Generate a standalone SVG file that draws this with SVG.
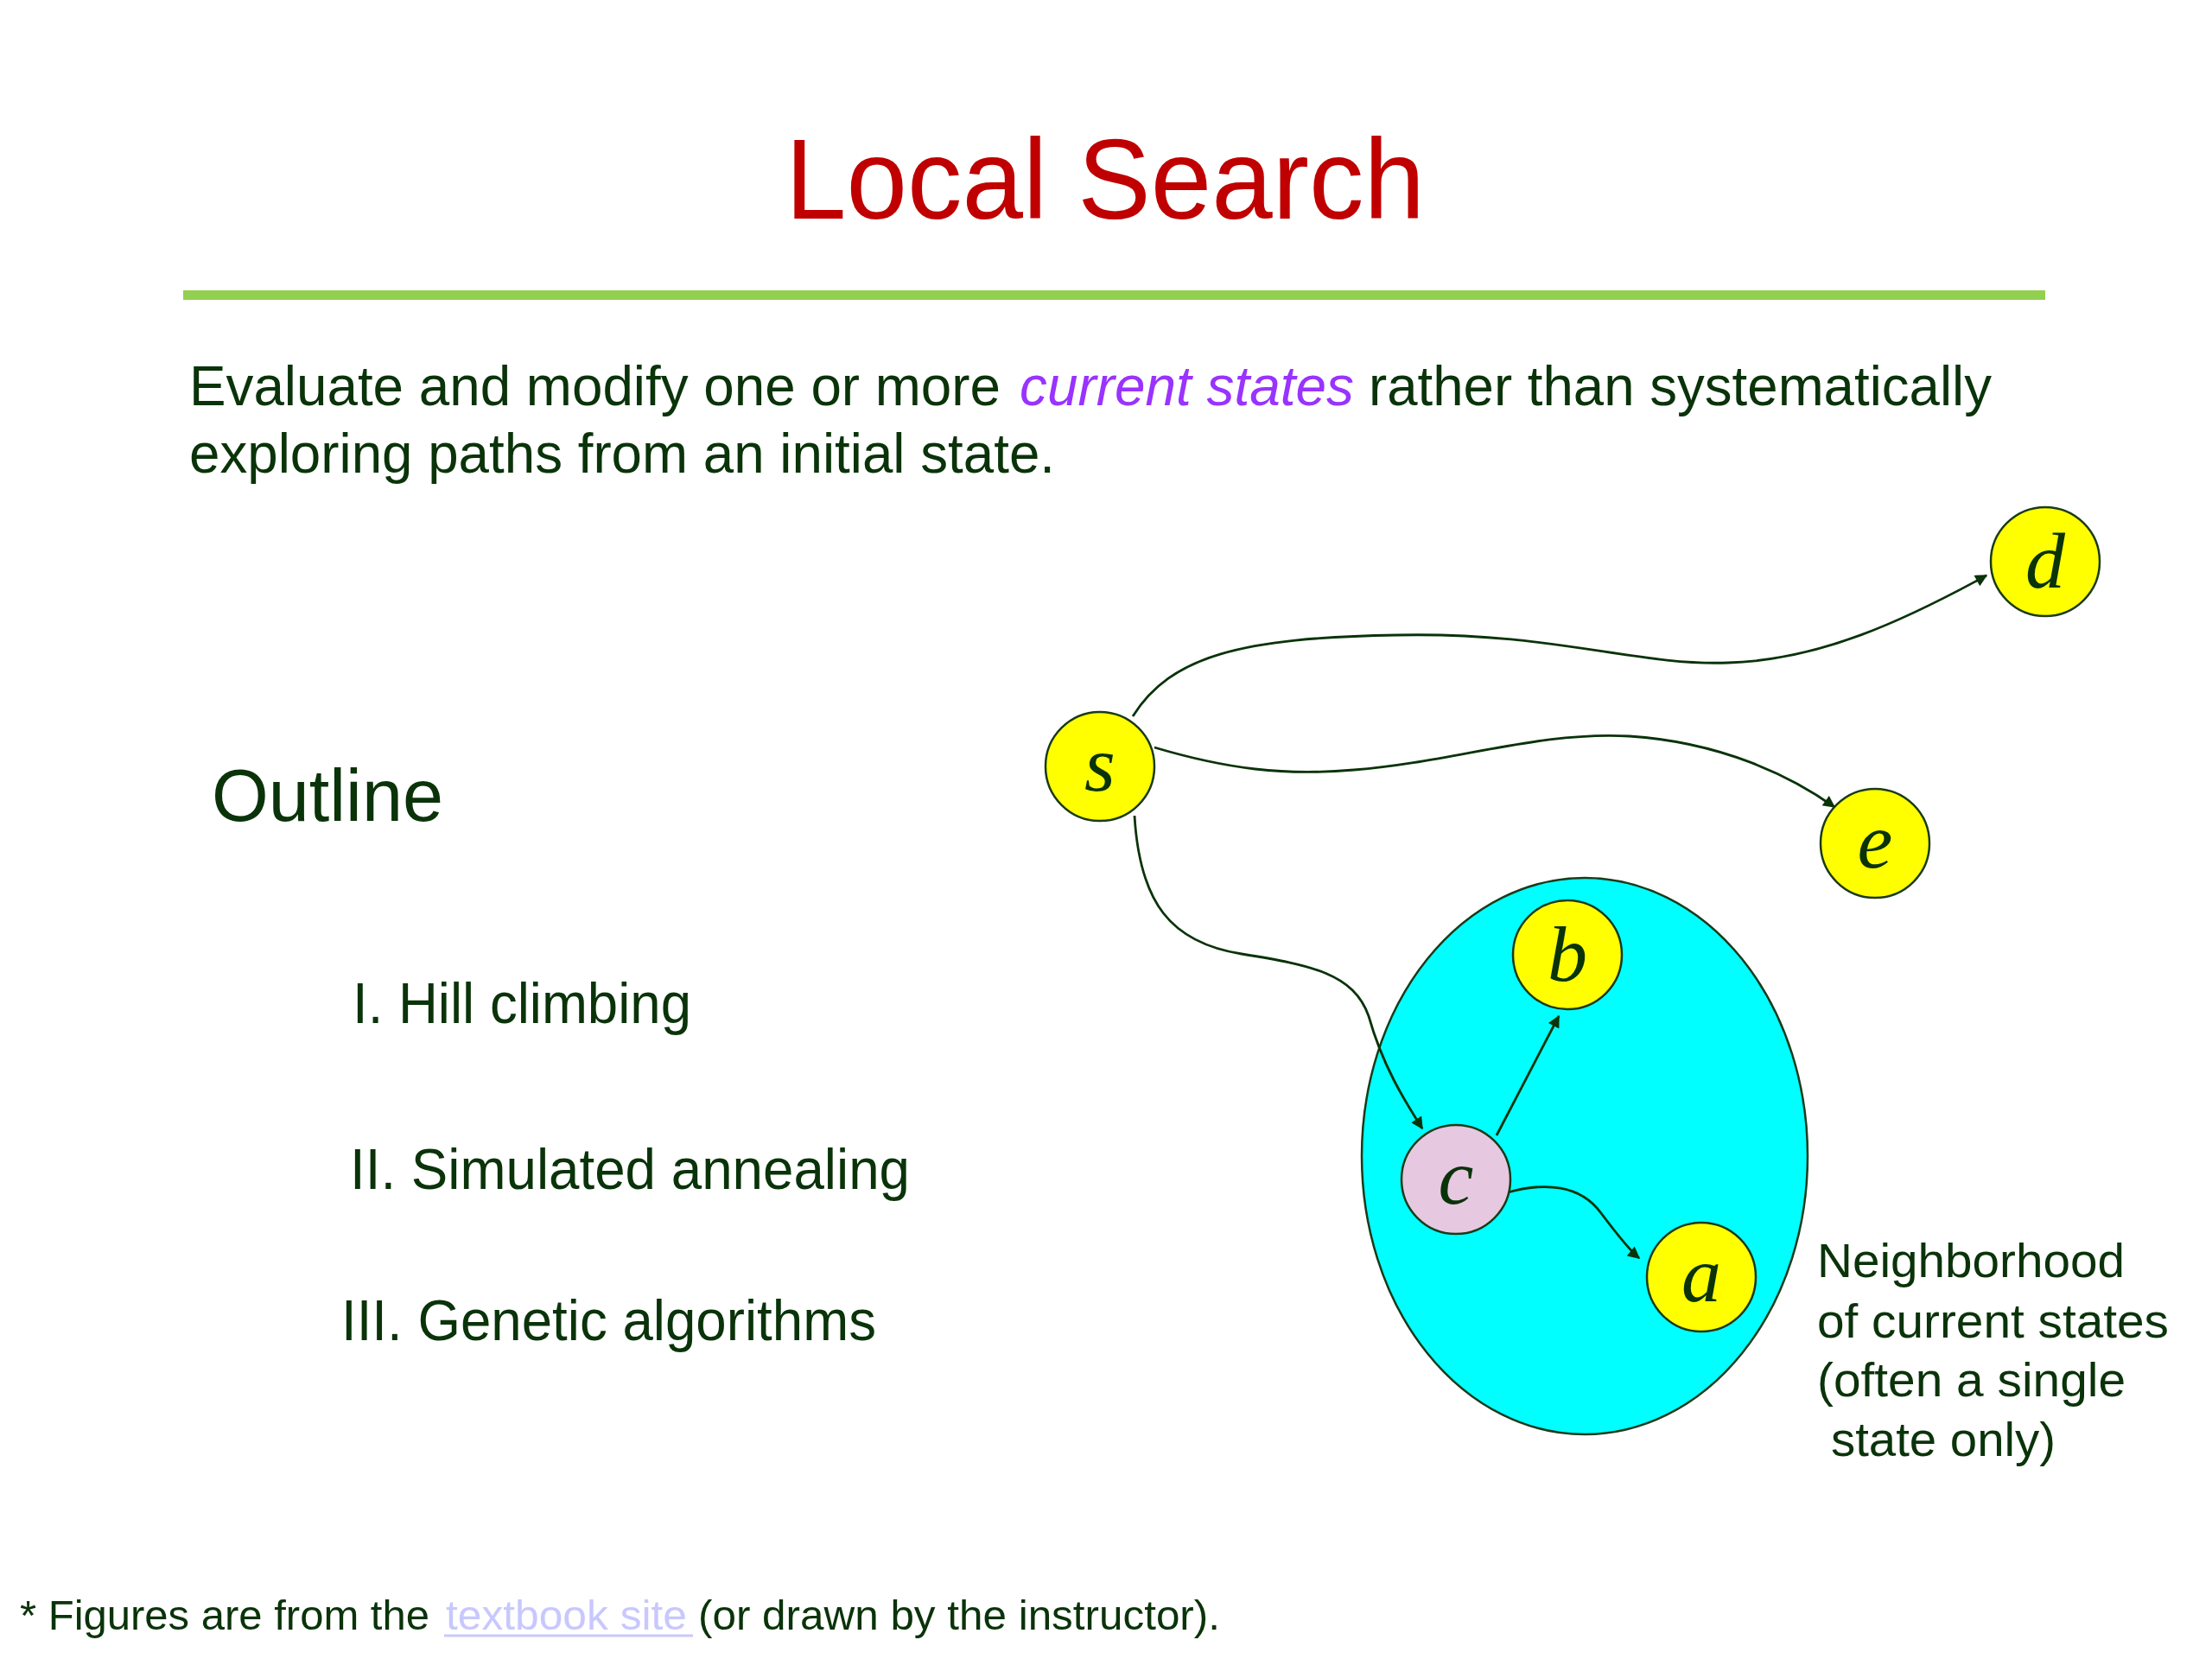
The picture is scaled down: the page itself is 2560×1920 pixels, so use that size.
<svg xmlns="http://www.w3.org/2000/svg" width="2560" height="1920" viewBox="0 0 2560 1920">
<style>
.t{font-family:"Liberation Sans",Arial,sans-serif;fill:#0a330a}
.lbl{font-family:"Liberation Serif","DejaVu Serif",serif;font-style:italic;font-size:92px;fill:#0a330a;text-anchor:middle}
.node{fill:#ffff00;stroke:#1a3a1a;stroke-width:2.5}
.edge{fill:none;stroke:#0a330a;stroke-width:2.8;marker-end:url(#arr)}
</style>
<defs>
<marker id="arr" viewBox="0 0 10 10" refX="9" refY="5" markerWidth="16" markerHeight="14" markerUnits="userSpaceOnUse" orient="auto"><path d="M0,0 L10,5 L0,10 z" fill="#0a330a"/></marker>
</defs>
<rect width="2560" height="1920" fill="#ffffff"/>
<text x="909" y="253" font-family="Liberation Sans,Arial,sans-serif" font-size="132" fill="#c00000" textLength="740" lengthAdjust="spacingAndGlyphs">Local Search</text>
<rect x="212" y="336" width="2155" height="11" fill="#92d050"/>
<text class="t" x="219" y="469" font-size="64" textLength="939" lengthAdjust="spacingAndGlyphs">Evaluate and modify one or more</text>
<text x="1180" y="469" font-family="Liberation Sans,Arial,sans-serif" font-size="64" font-style="italic" fill="#9933ff" textLength="387" lengthAdjust="spacingAndGlyphs">current states</text>
<text class="t" x="1584" y="469" font-size="64" textLength="721" lengthAdjust="spacingAndGlyphs">rather than systematically</text>
<text class="t" x="219" y="547" font-size="64" textLength="1002" lengthAdjust="spacingAndGlyphs">exploring paths from an initial state.</text>
<text class="t" x="245" y="950" font-size="86" textLength="268" lengthAdjust="spacingAndGlyphs">Outline</text>
<text class="t" x="408" y="1184" font-size="66" textLength="392" lengthAdjust="spacingAndGlyphs">I. Hill climbing</text>
<text class="t" x="405" y="1376" font-size="66" textLength="648" lengthAdjust="spacingAndGlyphs">II. Simulated annealing</text>
<text class="t" x="395" y="1551" font-size="66" textLength="619" lengthAdjust="spacingAndGlyphs">III. Genetic algorithms</text>
<g id="neighborhood">
<ellipse cx="1834" cy="1338" rx="258" ry="322" fill="#00ffff" stroke="#1a3a1a" stroke-width="2.5"/>
</g>
<g id="connectors">
<path class="edge" d="M1311,829 C1355,759 1437,738 1616,735 C1796,731 1894,771 2000,767 C2106,764 2204,718 2299,666"/>
<path class="edge" d="M1336,865 C1420,890 1486,898 1567,891 C1682,882 1780,846 1886,852 C1992,859 2073,898 2123,934"/>
<path class="edge" d="M1313,944 C1319,1045 1355,1091 1437,1104 C1518,1117 1567,1127 1584,1176 C1600,1233 1625,1273 1646,1306"/>
<path class="edge" d="M1732,1314 L1804,1176"/>
<path class="edge" d="M1745,1380 C1788,1368 1829,1371 1853,1404 C1874,1432 1886,1447 1897,1456"/>
</g>
<g id="node-s"><circle class="node" cx="1273" cy="887" r="63"/><text class="lbl" x="1273" y="915">s</text></g>
<g id="node-d"><circle class="node" cx="2367" cy="650" r="63"/><text class="lbl" x="2367" y="680">d</text></g>
<g id="node-e"><circle class="node" cx="2170" cy="976" r="63"/><text class="lbl" x="2170" y="1004">e</text></g>
<g id="node-b"><circle class="node" cx="1814" cy="1105" r="63"/><text class="lbl" x="1814" y="1135">b</text></g>
<g id="node-c"><circle cx="1685" cy="1365" r="63" fill="#e6c8e0" stroke="#1a3a1a" stroke-width="2.5"/><text class="lbl" x="1685" y="1393">c</text></g>
<g id="node-a"><circle class="node" cx="1969" cy="1478" r="63"/><text class="lbl" x="1969" y="1506">a</text></g>
<g id="caption">
<text class="t" x="2103" y="1478" font-size="56" textLength="356" lengthAdjust="spacingAndGlyphs">Neighborhood</text>
<text class="t" x="2103" y="1548" font-size="56" textLength="407" lengthAdjust="spacingAndGlyphs">of current states</text>
<text class="t" x="2103" y="1616" font-size="56" textLength="357" lengthAdjust="spacingAndGlyphs">(often a single</text>
<text class="t" x="2119" y="1685" font-size="56" textLength="260" lengthAdjust="spacingAndGlyphs">state only)</text>
</g>
<text class="t" x="23" y="1886" font-size="48" textLength="474" lengthAdjust="spacingAndGlyphs">* Figures are from the</text>
<text x="516" y="1886" font-family="Liberation Sans,Arial,sans-serif" font-size="48" fill="#c8c8ff" textLength="279" lengthAdjust="spacingAndGlyphs">textbook site</text>
<line x1="514" y1="1893" x2="802" y2="1893" stroke="#c8c8ff" stroke-width="3"/>
<text class="t" x="808" y="1886" font-size="48" textLength="604" lengthAdjust="spacingAndGlyphs">(or drawn by the instructor).</text>
</svg>
